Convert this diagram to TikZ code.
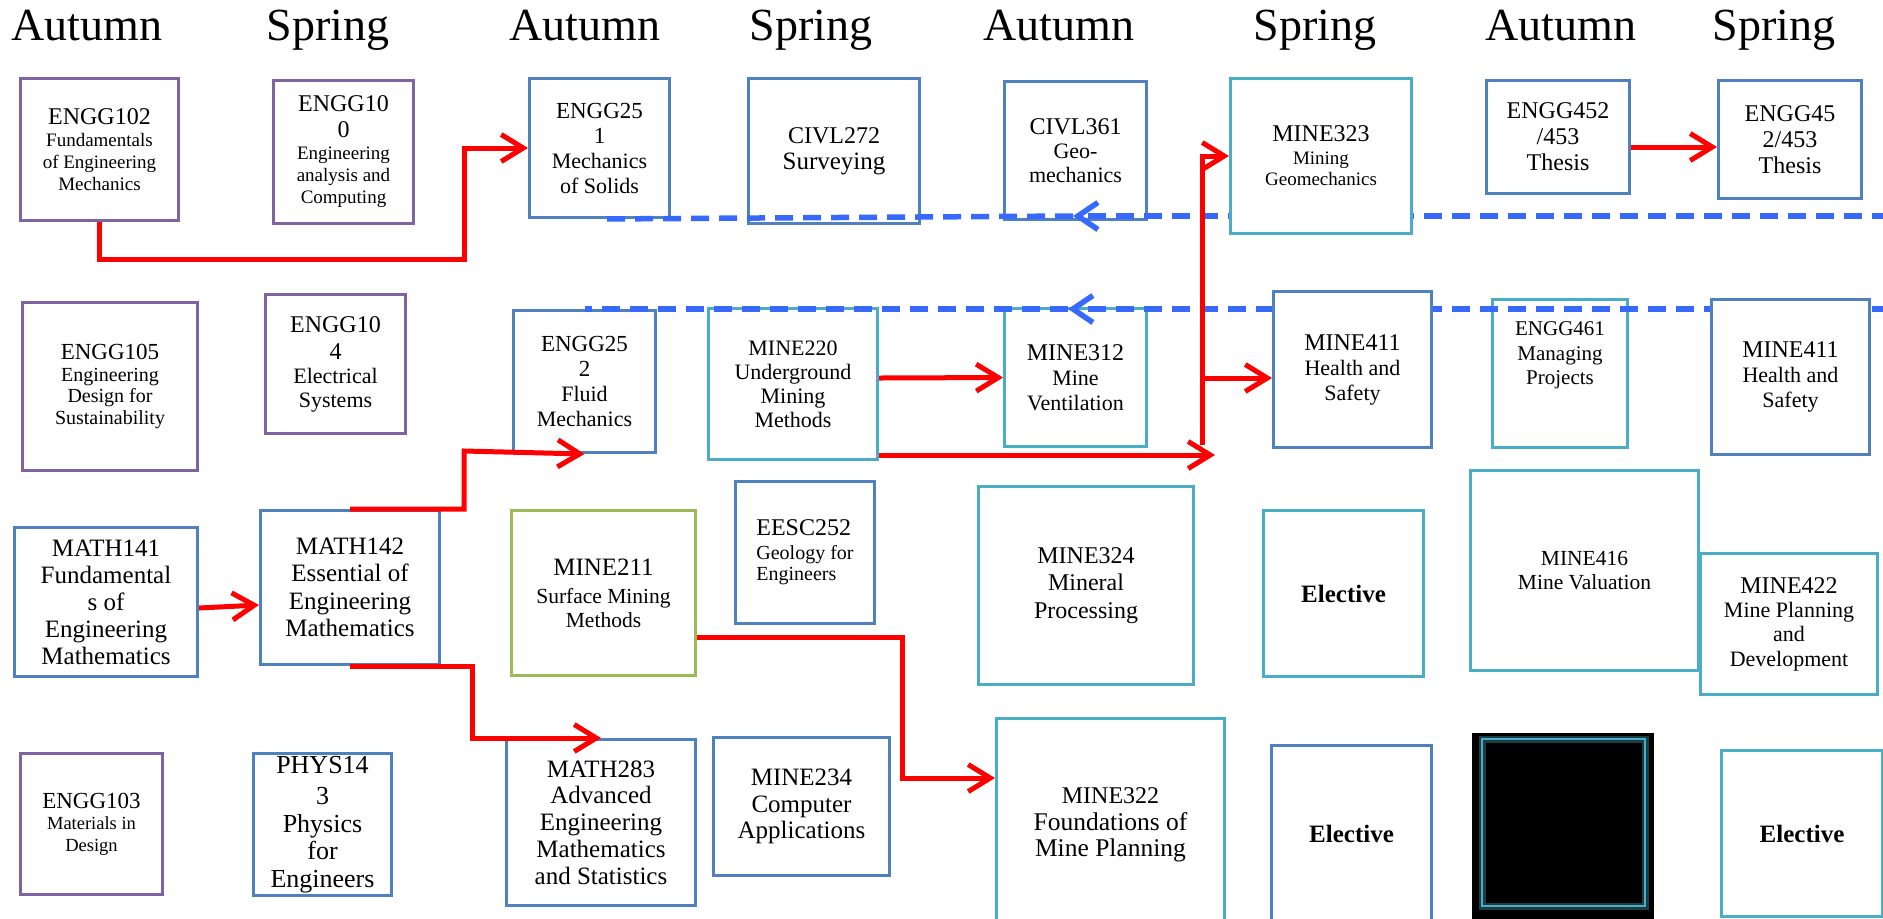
\documentclass[tikz,border=0pt]{standalone}
\usepackage{fontspec}
\setmainfont{Liberation Serif}
\usetikzlibrary{arrows.meta}
\definecolor{cpur}{RGB}{128,100,162}
\definecolor{cblue}{RGB}{79,129,189}
\definecolor{cteal}{RGB}{75,172,198}
\definecolor{cgreen}{RGB}{155,187,89}
\definecolor{cdash}{RGB}{55,105,255}
\newcommand\fz[1]{\fontsize{#1}{#1}\selectfont}
\begin{document}
\begin{tikzpicture}[x=0.5pt,y=-0.5pt,
  hdr/.style={anchor=base, inner sep=0pt, font=\fontsize{23}{23}\selectfont},
  box/.style={draw, line width=1.5pt, inner sep=0pt, align=center, anchor=north west, text=black},
  sz/.style 2 args={minimum width=#1*0.5pt, minimum height=#2*0.5pt},
  fs/.style 2 args={font=\fontsize{#1}{#2}\selectfont},
  pur/.style={box, draw=cpur},
  blu/.style={box, draw=cblue},
  tea/.style={box, draw=cteal},
  gre/.style={box, draw=cgreen},
  rarr/.style={draw=red, line width=2.5pt, -{Straight Barb[length=11pt,width=13.5pt]}},
  bdash/.style={draw=cdash, line width=2.75pt, dash pattern=on 9pt off 5pt},
  btip/.style={-{Straight Barb[length=10pt,width=13.5pt]}}
]
\useasboundingbox (0,0) rectangle (1883,918);
\clip (0,0) rectangle (1883,918);

% headers
\node[hdr] (h1) at (87,40) {Autumn};
\node[hdr] (h2) at (328,40) {Spring};
\node[hdr] (h3) at (585,40) {Autumn};
\node[hdr] (h4) at (811,40) {Spring};
\node[hdr] (h5) at (1059,40) {Autumn};
\node[hdr] (h6) at (1315,40) {Spring};
\node[hdr] (h7) at (1561,40) {Autumn};
\node[hdr] (h8) at (1774,40) {Spring};

% row 1
\node[pur, sz={158}{142}, fs={9.5}{11}] (e102) at (19,77) {{\fz{12}ENGG102}\\Fundamentals\\of Engineering\\Mechanics};
\node[pur, sz={140}{143}, fs={9.5}{11}] (e100) at (272,79) {{\fz{12}ENGG10}\\[2pt]{\fz{12}0}\\Engineering\\analysis and\\Computing};
\node[blu, sz={140}{139}, fs={11}{12.5}] (e251) at (528,77) {{\fz{11.5}ENGG25}\\{\fz{11.5}1}\\Mechanics\\of Solids};
\node[blu, sz={171}{145}, fs={12}{13}] (c272) at (747,77) {CIVL272\\{\fz{12.5}Surveying}};
\node[blu, sz={142}{138}, fs={11}{12}] (c361) at (1003,80) {{\fz{12}CIVL361}\\Geo-\\mechanics};
\node[blu, sz={143}{113}, fs={12}{13}] (e452a) at (1485,79) {ENGG452\\/453\\Thesis};
\node[blu, sz={143}{118}, fs={12}{13}] (e452b) at (1717,79) {ENGG45\\2/453\\Thesis};

% row 2
\node[pur, sz={175}{168}, fs={10}{10.75}] (e105) at (21,301) {{\fz{11.5}ENGG105}\\Engineering\\Design for\\Sustainability};
\node[pur, sz={140}{139}, fs={11}{12}] (e104) at (264,293) {{\fz{12}ENGG10}\\[1.5pt]{\fz{12}4}\\Electrical\\Systems};
\node[blu, sz={142}{142}, fs={11}{12.5}] (e252) at (512,309) {{\fz{11.5}ENGG25}\\{\fz{11.5}2}\\Fluid\\Mechanics};
\node[tea, sz={169}{151}, fs={11}{12}] (m220) at (707,307) {MINE220\\Underground\\Mining\\Methods};
\node[tea, sz={142}{138}, fs={11}{12.5}] (m312) at (1003,307) {{\fz{12}MINE312}\\Mine\\Ventilation};
\node[tea, sz={135}{148}, fs={10.5}{12.3}] (e461) at (1491,298) {ENGG461\\Managing\\Projects\\[8pt]};

% row 3
\node[blu, sz={183}{149}, fs={12.5}{13.5}] (m141) at (13,526) {MATH141\\Fundamental\\s of\\Engineering\\Mathematics};
\node[blu, sz={179}{154}, fs={12.5}{13.75}] (m142) at (259,509) {MATH142\\Essential of\\Engineering\\Mathematics};
\node[gre, sz={184}{165}, fs={10.75}{12}] (m211) at (510,509) {{\fz{12.5}MINE211}\\[2pt]Surface Mining\\Methods};
\node[blu, sz={139}{142}, fs={10}{10.75}, align=left] (ee252) at (734,480) {{\fz{12}EESC252}\\[1pt]Geology for\\Engineers};
\node[tea, sz={215}{198}, fs={12}{13.75}] (m324) at (977,485) {MINE324\\Mineral\\Processing};
\node[tea, sz={160}{166}, fs={12.5}{13}] (el1) at (1262,509) {\bfseries Elective};
\node[tea, sz={228}{200}, fs={10.75}{12}] (m416) at (1469,469) {MINE416\\Mine Valuation};
\node[tea, sz={177}{141}, fs={11}{12.2}] (m422) at (1699,552) {{\fz{12}MINE422}\\Mine Planning\\and\\Development};

% row 4
\node[pur, sz={142}{141}, fs={9.25}{10.75}] (e103) at (19,752) {{\fz{11.5}ENGG103}\\Materials in\\Design};
\node[blu, sz={138}{142}, fs={13}{13.75}] (p143) at (252,752) {PHYS14\\[2pt]3\\Physics\\for\\Engineers};
\node[blu, sz={189}{166}, fs={12.5}{13.4}] (m283) at (505,738) {MATH283\\Advanced\\Engineering\\Mathematics\\and Statistics};
\node[blu, sz={176}{138}, fs={12.5}{13.25}] (m234) at (712,736) {MINE234\\Computer\\Applications};
\node[tea, sz={228}{213}, fs={12.75}{13.25}] (m322) at (995,717) {{\fz{12}MINE322}\\Foundations of\\Mine Planning};
\node[blu, sz={160}{176}, fs={12.5}{13}] (el2) at (1270,744) {\bfseries Elective};
\node[anchor=north west, fill=black, inner sep=0pt, sz={182}{190}] (blk) at (1472,733) {};
\draw[cteal, line width=3.5pt, opacity=0.35] (1482,739) rectangle (1645,906);
\draw[cteal, line width=1.3pt] (1482,739) rectangle (1645,906);
\node[tea, sz={161}{166}, fs={12.5}{13}] (el3) at (1720,749) {\bfseries Elective};

% dashed connectors
\coordinate (d1r) at (1890,216);
\coordinate (d1m) at (1073,216);
\coordinate (d2r) at (1890,309);
\coordinate (d2m) at (1068,309);
\draw[bdash, btip] (d1r) -- (d1m);
\draw[bdash] (d1m) -- (e251.south);
\draw[bdash, btip] (d2r) -- (d2m);
\draw[bdash] (d2m) -- (e252.north);

% boxes lying over the dashed lines
\node[tea, fill=white, sz={181}{155}, fs={9.5}{10.5}] (m323) at (1229,77) {{\fz{12}MINE323}\\[1pt]Mining\\Geomechanics};
\node[blu, fill=white, sz={158}{156}, fs={11}{12.5}] (m411a) at (1272,290) {{\fz{12}MINE411}\\Health and\\Safety};
\node[blu, fill=white, sz={158}{155}, fs={11}{12.5}] (m411b) at (1710,298) {{\fz{12}MINE411}\\Health and\\Safety};

% red connectors
\coordinate (c1) at (464,259);
\draw[rarr] (e102.south) |- (c1) |- (e251.west);
\coordinate (c2) at (0,147);
\draw[rarr] (e452a.east |- c2) -- (e452b.west |- c2);
\coordinate (c3a) at (0,608);
\coordinate (c3b) at (0,605);
\draw[rarr] (m141.east |- c3a) -- (m142.west |- c3b);
\coordinate (c4) at (464,451);
\draw[rarr] (m142.north) -| (c4) -- (e252.south);
\coordinate (c5) at (472,738);
\draw[rarr] (m142.south) -| (c5) -- (m283.north);
\coordinate (c6a) at (0,637);
\coordinate (c6b) at (902,778);
\draw[rarr] (m211.east |- c6a) -| (c6b) -- (m322.west |- c6b);
\coordinate (c7) at (0,378);
\draw[rarr] (m220.east |- c7) -- (m312.west);
\coordinate (c8) at (1215,455);
\draw[rarr] (m220.south east |- c8) -- (c8);
\coordinate (j1) at (1202,445);
\draw[rarr] (j1) |- (m323.west);
\coordinate (j2) at (1202,378);
\draw[rarr] (j2) -- (m411a.west |- j2);
\end{tikzpicture}
\end{document}
